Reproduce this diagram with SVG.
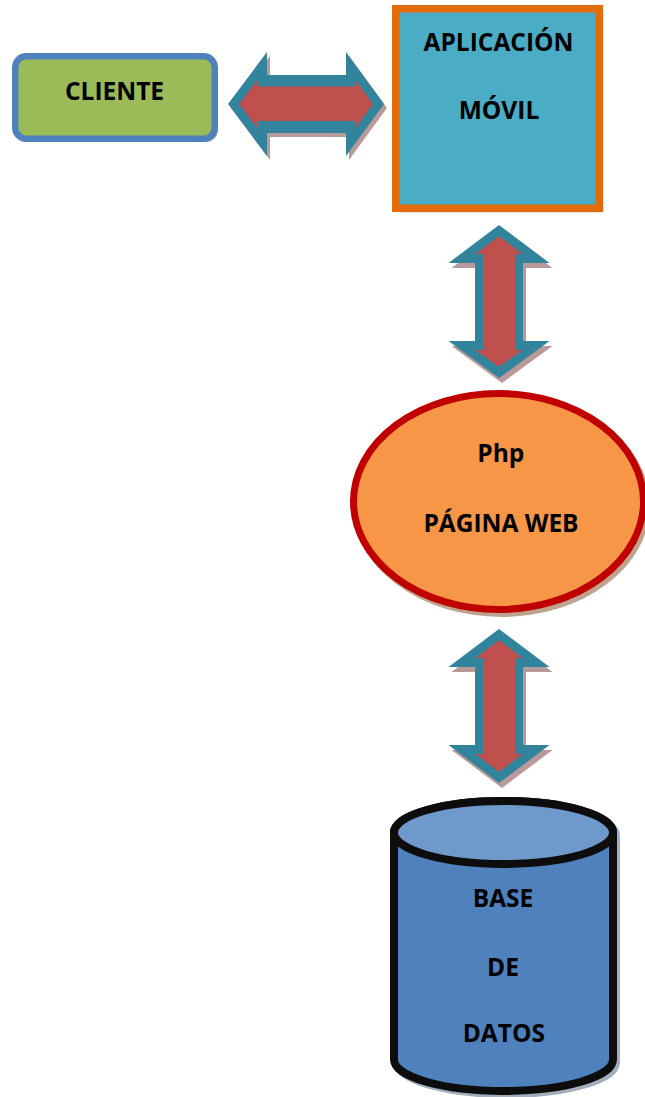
<svg xmlns="http://www.w3.org/2000/svg" width="645" height="1097" viewBox="0 0 645 1097">
<style>
.t{font-family:"Open Sans","Liberation Sans",sans-serif;font-weight:bold;font-size:24.5px;fill:#000;text-anchor:middle}
.ao{fill:#31849B}
.ai{fill:#C0504D}
.as{fill:#B89A9A}
</style>
<rect width="645" height="1097" fill="#ffffff"/>
<g id="connectors">
  <g id="arrow-cliente-app">
    <path class="as" transform="translate(3,4)" d="M228,104 L267,52 L267,75 L346,75 L346,52 L384,104 L346,156 L346,133 L267,133 L267,156 Z"/>
    <path class="ao" d="M228,104 L267,52 L267,75 L346,75 L346,52 L384,104 L346,156 L346,133 L267,133 L267,156 Z"/>
    <path class="ai" d="M239.3,104 L258,79 L258,86.5 L355,86.5 L355,79.6 L372.9,104 L355,128.4 L355,121 L258,121 L258,129 Z"/>
  </g>
  <g id="arrow-app-web">
    <path class="as" transform="translate(3,5)" d="M499,225 L549.5,263 L523,263 L523,341 L549.5,341 L499,378 L448.5,341 L475,341 L475,263 L448.5,263 Z"/>
    <path class="ao" d="M499,225 L549.5,263 L523,263 L523,341 L549.5,341 L499,378 L448.5,341 L475,341 L475,263 L448.5,263 Z"/>
    <path class="ai" d="M499,236.3 L522.6,254 L515,254 L515,350 L522.6,350 L499,366.7 L475.4,350 L483,350 L483,254 L475.4,254 Z"/>
  </g>
  <g id="arrow-web-db">
    <path class="as" transform="translate(3,5)" d="M499,629 L549.5,667 L523,667 L523,745 L549.5,745 L499,783 L448.5,745 L475,745 L475,667 L448.5,667 Z"/>
    <path class="ao" d="M499,629 L549.5,667 L523,667 L523,745 L549.5,745 L499,783 L448.5,745 L475,745 L475,667 L448.5,667 Z"/>
    <path class="ai" d="M499,640.3 L522.6,658 L515,658 L515,754 L522.6,754 L499,771.7 L475.4,754 L483,754 L483,658 L475.4,658 Z"/>
  </g>
</g>
<g id="cliente">
  <rect x="18.25" y="59.25" width="199.5" height="82.5" rx="11" fill="#A9B096"/>
  <rect x="15.25" y="56.25" width="199.5" height="82.5" rx="11" fill="#9BBB59" stroke="#4F81BD" stroke-width="6.5"/>
  <text class="t" x="114.5" y="99.5">CLIENTE</text>
</g>
<g id="app">
  <rect x="399.75" y="12.75" width="203.5" height="199.5" fill="#93A9B3"/>
  <rect x="395.75" y="8.75" width="203.5" height="199.5" fill="#4BACC6" stroke="#E36C09" stroke-width="7.5"/>
  <text class="t" x="498.5" y="50.5">APLICACIÓN</text>
  <text class="t" x="499" y="118.5">MÓVIL</text>
</g>
<g id="web">
  <ellipse cx="501.5" cy="505.5" rx="148.5" ry="111.5" fill="#BFA38E"/>
  <ellipse cx="498.5" cy="501.5" rx="145" ry="108" fill="#F79646" stroke="#C00000" stroke-width="7"/>
  <text class="t" x="500.8" y="462">Php</text>
  <text class="t" x="501" y="532">PÁGINA WEB</text>
</g>
<g id="db">
  <path d="M397,835.5 L397,1062.5 A109.5,31.5 0 0 0 616,1062.5 L616,835.5 A109.5,31.5 0 0 0 397,835.5 Z" fill="#A3ADBB" stroke="#A3ADBB" stroke-width="8"/>
  <path d="M394,832.5 L394,1059.5 A109.5,31.5 0 0 0 613,1059.5 L613,832.5 A109.5,31.5 0 0 0 394,832.5 Z" fill="#4F81BD" stroke="#0D0D0D" stroke-width="8"/>
  <ellipse cx="503.5" cy="832.5" rx="109.5" ry="31.5" fill="#7099CB" stroke="#0D0D0D" stroke-width="8"/>
  <text class="t" x="503" y="907">BASE</text>
  <text class="t" x="503" y="975.5">DE</text>
  <text class="t" x="503.8" y="1042">DATOS</text>
</g>
</svg>
